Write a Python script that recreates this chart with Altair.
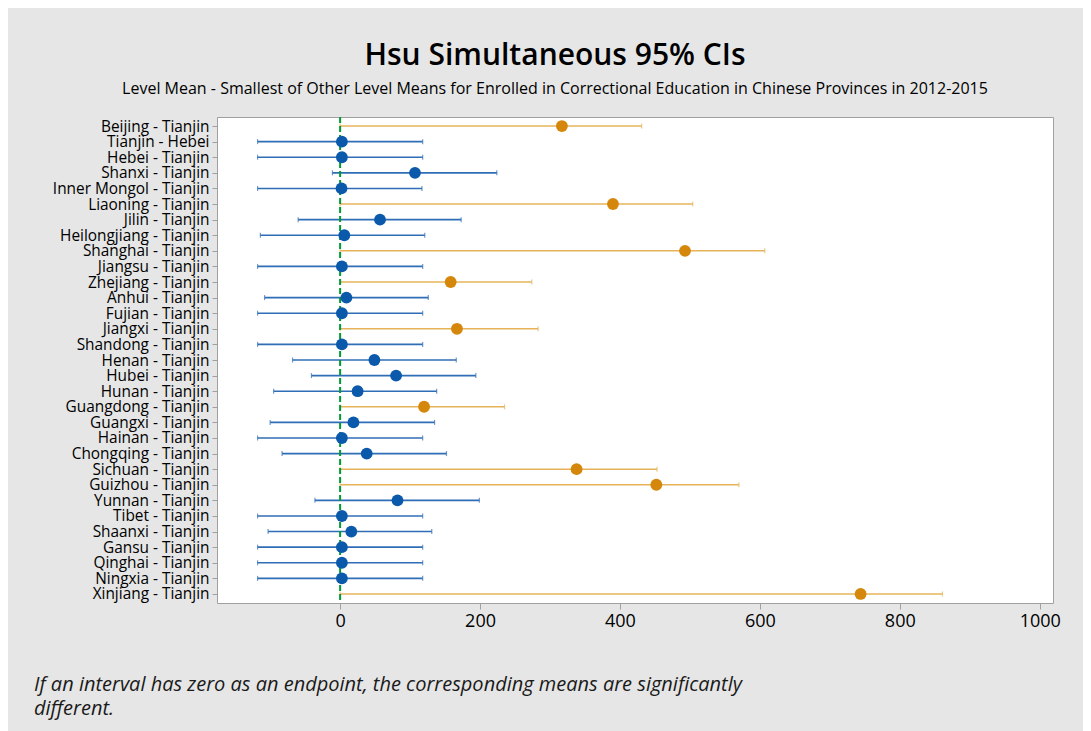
import altair as alt
import pandas as pd

labels = ["Beijing - Tianjin", "Tianjin - Hebei", "Hebei - Tianjin", "Shanxi - Tianjin",
          "Inner Mongol - Tianjin", "Liaoning - Tianjin", "Jilin - Tianjin",
          "Heilongjiang - Tianjin", "Shanghai - Tianjin", "Jiangsu - Tianjin",
          "Zhejiang - Tianjin", "Anhui - Tianjin", "Fujian - Tianjin", "Jiangxi - Tianjin",
          "Shandong - Tianjin", "Henan - Tianjin", "Hubei - Tianjin", "Hunan - Tianjin",
          "Guangdong - Tianjin", "Guangxi - Tianjin", "Hainan - Tianjin",
          "Chongqing - Tianjin", "Sichuan - Tianjin", "Guizhou - Tianjin",
          "Yunnan - Tianjin", "Tibet - Tianjin", "Shaanxi - Tianjin", "Gansu - Tianjin",
          "Qinghai - Tianjin", "Ningxia - Tianjin", "Xinjiang - Tianjin"]
means = [317, 2.5, 2.5, 107, 2, 390, 57, 6, 493, 2.5, 158, 9, 2.5, 167, 2.5, 49, 80, 25,
         120, 19, 2.5, 38, 338, 452, 82, 2.5, 16, 2.5, 2.5, 2.5, 744]
lowers = [0, -118, -118, -11, -118, 0, -60, -114, 0, -118, 0, -108, -118, 0, -118, -68,
          -41, -95, 0, -100, -118, -83, 0, 0, -36, -118, -103, -118, -118, -118, 0]
uppers = [431, 118, 118, 224, 117, 504, 173, 121, 607, 118, 274, 126, 118, 283, 118, 166,
          194, 138, 235, 135, 118, 152, 453, 570, 199, 118, 131, 118, 118, 118, 861]
groups = ["sig", "ns", "ns", "ns", "ns", "sig", "ns", "ns", "sig", "ns", "sig", "ns", "ns",
          "sig", "ns", "ns", "ns", "ns", "sig", "ns", "ns", "ns", "sig", "sig", "ns", "ns",
          "ns", "ns", "ns", "ns", "sig"]
x_ticks = [0, 200, 400, 600, 800, 1000]

df = pd.DataFrame({"label": labels, "mean": means, "lo": lowers, "hi": uppers, "grp": groups})

xscale = alt.Scale(domain=[-176, 1019], nice=False, zero=False)
yscale = alt.Scale(type="point", padding=0.58)

xaxis = alt.Axis(values=x_ticks, grid=False, domain=False, tickColor="#a0a0a0",
                 tickSize=6, labelFontSize=18, labelColor="#000000",
                 labelFont="Open Sans", labelPadding=3, format="d")
Y = alt.Y("label:N", sort=labels, scale=yscale, title=None,
          axis=alt.Axis(grid=False, domain=False, tickColor="#a0a0a0", tickSize=5,
                        labelFontSize=15.4, labelColor="#000000", labelFont="Open Sans",
                        labelPadding=3, labelLimit=300))

line_color = alt.Color("grp:N", scale=alt.Scale(domain=["ns", "sig"],
                                                range=["#2f6db6", "#e6b35a"]), legend=None)
dot_color = alt.Color("grp:N", scale=alt.Scale(domain=["ns", "sig"],
                                               range=["#0b59ab", "#d4870a"]), legend=None)

base = alt.Chart(df)

intervals = base.mark_rule(strokeWidth=1.6).encode(
    x=alt.X("lo:Q", scale=xscale, title=None, axis=xaxis), x2="hi:Q", y=Y, color=line_color)
cap_lo = base.mark_tick(orient="vertical", size=5, thickness=1.2).encode(
    x=alt.X("lo:Q", scale=xscale, title=None), y=Y, color=line_color)
cap_hi = base.mark_tick(orient="vertical", size=5, thickness=1.2).encode(
    x=alt.X("hi:Q", scale=xscale, title=None), y=Y, color=line_color)

zero_line = alt.Chart(pd.DataFrame({"z": [0]})).mark_rule(
    color="#009933", strokeWidth=2, strokeDash=[6, 3]).encode(
    x=alt.X("z:Q", scale=xscale, title=None))

dots = base.mark_circle(size=140, opacity=1).encode(
    x=alt.X("mean:Q", scale=xscale, title=None), y=Y, color=dot_color)

note = alt.Chart(pd.DataFrame({"t": ["If an interval has zero as an endpoint, the corresponding means are significantly\ndifferent."]})).mark_text(
    align="left", baseline="middle", fontSize=20, fontStyle="italic", font="Open Sans",
    color="#1a1a1a", lineBreak="\n", lineHeight=24).encode(
    text="t:N", x=alt.value(-183), y=alt.value(568))

chart = alt.layer(intervals, cap_lo, cap_hi, zero_line, dots, note).resolve_scale(
    color="independent").properties(
    width=836, height=486,
    autosize=alt.AutoSizeParams(type="none"),
    padding={"left": 209, "top": 109, "right": 30, "bottom": 128},
    background="#e6e6e6",
    title=alt.TitleParams(
        text="Hsu Simultaneous 95% CIs",
        subtitle="Level Mean - Smallest of Other Level Means for Enrolled in Correctional Education in Chinese Provinces in 2012-2015",
        anchor="middle", dx=-80, offset=19, font="Open Sans", fontSize=30,
        fontWeight=600, color="#000000", subtitleFont="Open Sans",
        subtitleFontSize=16, subtitleColor="#000000", subtitlePadding=10)
).configure_view(fill="white", stroke="#a0a0a0", strokeWidth=1)

chart.save("out.html", embed_options={"renderer": "svg", "actions": False})
